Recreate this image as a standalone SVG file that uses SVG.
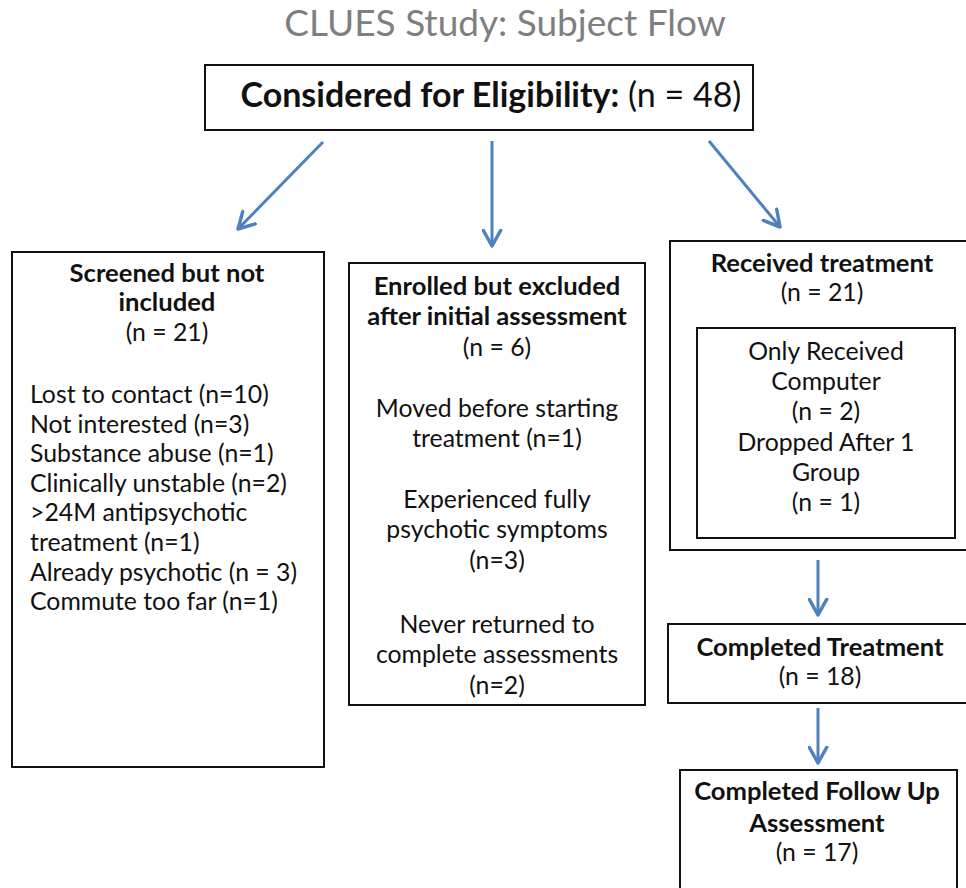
<svg xmlns="http://www.w3.org/2000/svg" width="966" height="888" viewBox="0 0 966 888">
<style>
  text { font-family: Lato, "Open Sans", "Liberation Sans", sans-serif; fill: #111; }
  .t { font-size: 24.8px; }
  .b { font-weight: bold; font-size: 25.6px; }
  .c { text-anchor: middle; }
  .box { fill: #fff; stroke: #111; stroke-width: 2; }
  .arr { stroke: #4f81bd; stroke-width: 3; fill: none; marker-end: url(#ah); }
  .title { font-size: 37px; fill: #7f7f7f; }
</style>
<defs>
  <marker id="ah" viewBox="0 0 12 12" refX="10" refY="6" markerWidth="7" markerHeight="7" orient="auto" markerUnits="strokeWidth">
    <path d="M1,1 L10,6 L1,11" fill="none" stroke="#4f81bd" stroke-width="2" stroke-linecap="round" stroke-linejoin="round"/>
  </marker>
</defs>
<rect width="966" height="888" fill="#fff"/>
<text class="title c" x="505" y="36">CLUES Study: Subject Flow</text>

<g id="connectors">
  <line class="arr" x1="323" y1="142" x2="238" y2="229"/>
  <line class="arr" x1="492" y1="141" x2="492" y2="246"/>
  <line class="arr" x1="709" y1="141" x2="780" y2="227"/>
  <line class="arr" x1="818" y1="560" x2="818" y2="615"/>
  <line class="arr" x1="818" y1="708" x2="818" y2="763"/>
</g>

<g id="eligibility">
  <rect class="box" x="205" y="65" width="548" height="65"/>
  <text class="c" x="491" y="107" style="font-size:34px"><tspan style="font-weight:bold">Considered for Eligibility:</tspan> (n = 48)</text>
</g>

<g id="screened">
  <rect class="box" x="12" y="252" width="312" height="515"/>
  <text class="t b c" x="167" y="282">Screened but not</text>
  <text class="t b c" x="167" y="311">included</text>
  <text class="t c" x="167" y="341">(n = 21)</text>
  <text class="t" x="30" y="403">Lost to contact (n=10)</text>
  <text class="t" x="30" y="432.6">Not interested (n=3)</text>
  <text class="t" x="30" y="462.2">Substance abuse (n=1)</text>
  <text class="t" x="30" y="491.8">Clinically unstable (n=2)</text>
  <text class="t" x="30" y="521.4">&gt;24M antipsychotic</text>
  <text class="t" x="30" y="551">treatment (n=1)</text>
  <text class="t" x="30" y="580.6">Already psychotic (n = 3)</text>
  <text class="t" x="30" y="610.2">Commute too far (n=1)</text>
</g>

<g id="enrolled">
  <rect class="box" x="349" y="263" width="296" height="442"/>
  <text class="t b c" x="497" y="295">Enrolled but excluded</text>
  <text class="t b c" x="497" y="325">after initial  assessment</text>
  <text class="t c" x="497" y="356">(n = 6)</text>
  <text class="t c" x="497" y="417">Moved before starting</text>
  <text class="t c" x="497" y="447">treatment (n=1)</text>
  <text class="t c" x="497" y="508">Experienced fully</text>
  <text class="t c" x="497" y="538">psychotic symptoms</text>
  <text class="t c" x="497" y="569">(n=3)</text>
  <text class="t c" x="497" y="633">Never returned to</text>
  <text class="t c" x="497" y="663">complete assessments</text>
  <text class="t c" x="497" y="694">(n=2)</text>
</g>

<g id="received">
  <rect class="box" x="670" y="241" width="310" height="309"/>
  <text class="t b c" x="822" y="272">Received treatment</text>
  <text class="t c" x="822" y="301">(n = 21)</text>
</g>

<g id="dropped">
  <rect class="box" x="697" y="328" width="258" height="210"/>
  <text class="t c" x="826" y="360">Only Received</text>
  <text class="t c" x="826" y="390">Computer</text>
  <text class="t c" x="826" y="420">(n = 2)</text>
  <text class="t c" x="826" y="451">Dropped After 1</text>
  <text class="t c" x="826" y="481">Group</text>
  <text class="t c" x="826" y="511">(n = 1)</text>
</g>

<g id="completed">
  <rect class="box" x="668" y="624" width="310" height="79"/>
  <text class="t b c" x="820" y="656">Completed Treatment</text>
  <text class="t c" x="820" y="685">(n = 18)</text>
</g>

<g id="followup">
  <rect class="box" x="680" y="770" width="277" height="130"/>
  <text class="t b c" x="817" y="800">Completed Follow Up</text>
  <text class="t b c" x="817" y="832">Assessment</text>
  <text class="t c" x="817" y="861">(n = 17)</text>
</g>
</svg>
